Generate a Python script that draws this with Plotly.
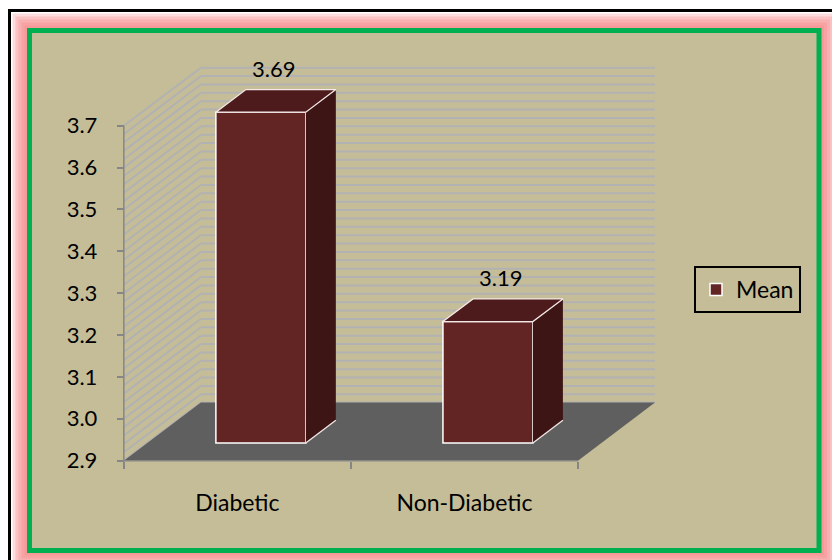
import numpy as np
import plotly.graph_objects as go

# ---- data -------------------------------------------------------------
categories = ["Diabetic", "Non-Diabetic"]
mean_values = [3.69, 3.19]
series_name = "Mean"
y_tick_values = [2.9, 3.0, 3.1, 3.2, 3.3, 3.4, 3.5, 3.6, 3.7]

# ---- 3-D look: oblique projection (depth 0 = front, depth 1 = back wall)
Y_MIN, Y_MAX = 2.9, 3.7
GRID_STEP = 0.02
DX = 77 / 227          # horizontal shift of the back wall, category units
DY = 58 / 418.6        # vertical shift of the back wall, value units
F0, F1 = 0.305, 0.695  # depth span of each bar
BAR_W = 0.396          # bar width, category units

X_RANGE = [-0.03, 2.357]
Y_RANGE = [2.88, 3.9]
FIG_W, FIG_H = 832, 560
M_L, M_R, M_T, M_B = 117, 173, 42, 91
PLOT_W = FIG_W - M_L - M_R
PLOT_H = FIG_H - M_T - M_B

FONT = "Lato"
BG = "#C4BD97"
FRONT, TOP, SIDE = "#632523", "#4D1B1B", "#3D1515"
GRID = "#B2B2B2"
AXIS = "#868686"


def proj(x, y, d):
    return x + DX * d, y + DY * d


def px_x(px):
    return (px - M_L) / PLOT_W


def px_y(py):
    return (FIG_H - M_B - py) / PLOT_H


centers = [i + 0.5 for i in range(len(categories))]

fig = go.Figure()

# front faces of the bars
bases = [Y_MIN + DY * F0 for _ in mean_values]
fig.add_trace(go.Bar(
    x=[c + DX * F0 for c in centers],
    y=[v + DY * F0 - b for v, b in zip(mean_values, bases)],
    base=bases,
    width=BAR_W,
    name=series_name,
    marker=dict(color=FRONT, line=dict(color="white", width=1.5)),
    hoverinfo="skip",
))

# side and top faces, plus the light edges
side_x, side_y, top_x, top_y, edge_x, edge_y = [], [], [], [], [], []
for c, v in zip(centers, mean_values):
    xl, xr = c - BAR_W / 2, c + BAR_W / 2
    pts = [proj(xr, Y_MIN, F0), proj(xr, v, F0), proj(xr, v, F1), proj(xr, Y_MIN, F1)]
    side_x += [p[0] for p in pts] + [None]
    side_y += [p[1] for p in pts] + [None]
    pts = [proj(xl, v, F0), proj(xr, v, F0), proj(xr, v, F1), proj(xl, v, F1), proj(xl, v, F0)]
    top_x += [p[0] for p in pts] + [None]
    top_y += [p[1] for p in pts] + [None]
    pts = [proj(xr, Y_MIN, F0), proj(xr, Y_MIN, F1)]
    edge_x += [p[0] for p in pts] + [None]
    edge_y += [p[1] for p in pts] + [None]

fig.add_trace(go.Scatter(x=side_x, y=side_y, mode="lines", fill="toself",
                         fillcolor=SIDE, line=dict(width=0), showlegend=False,
                         hoverinfo="skip"))
fig.add_trace(go.Scatter(x=top_x, y=top_y, mode="lines", fill="toself",
                         fillcolor=TOP, line=dict(color="#F4E8E8", width=1.3),
                         showlegend=False, hoverinfo="skip"))
fig.add_trace(go.Scatter(x=edge_x, y=edge_y, mode="lines",
                         line=dict(color="#F4E8E8", width=1.3),
                         showlegend=False, hoverinfo="skip"))

# value labels above each bar
annotations = []
for c, v in zip(centers, mean_values):
    ax, ay = proj(c, v, F1)
    annotations.append(dict(
        x=c + DX * 0.5, y=ay, xref="x", yref="y", text=f"{v:.2f}",
        showarrow=False, yshift=21, xshift=-2, yanchor="middle",
        font=dict(family=FONT, size=22, color="black")))

# ---- frame, walls, floor and grid ------------------------------------
shapes = []
# outer glow, filled chart area, green border, black edge
gx0, gy0, gx1, gy1 = px_x(29.5), px_y(30.5), px_x(819), px_y(550.5)
for w in (34, 28, 22, 16, 10):
    shapes.append(dict(type="rect", xref="paper", yref="paper", layer="below",
                       x0=gx0, y0=gy0, x1=gx1, y1=gy1,
                       line=dict(color="rgba(244,130,130,0.28)", width=w)))
shapes.append(dict(type="rect", xref="paper", yref="paper", layer="below",
                   x0=gx0, y0=gy0, x1=gx1, y1=gy1, fillcolor=BG, line=dict(width=0)))
shapes.append(dict(type="rect", xref="paper", yref="paper", layer="below",
                   x0=gx0, y0=gy0, x1=gx1, y1=gy1, line=dict(color="#00B050", width=5)))
shapes.append(dict(type="line", xref="paper", yref="paper", layer="below",
                   x0=px_x(8), y0=px_y(10.5), x1=px_x(832), y1=px_y(10.5),
                   line=dict(color="black", width=3)))
shapes.append(dict(type="line", xref="paper", yref="paper", layer="below",
                   x0=px_x(9.5), y0=px_y(9), x1=px_x(9.5), y1=px_y(560),
                   line=dict(color="black", width=3)))

n_cat = len(categories)
grid_vals = np.round(np.arange(Y_MIN, Y_MAX + GRID_STEP / 2, GRID_STEP), 4)
for gv in grid_vals:
    bx0, by0 = proj(0, gv, 1)
    bx1, by1 = proj(n_cat, gv, 1)
    shapes.append(dict(type="line", xref="x", yref="y", layer="below",
                       x0=bx0, y0=by0, x1=bx1, y1=by1, line=dict(color=GRID, width=2)))
    sx0, sy0 = proj(0, gv, 0)
    shapes.append(dict(type="line", xref="x", yref="y", layer="below",
                       x0=sx0, y0=sy0, x1=bx0, y1=by0, line=dict(color=GRID, width=2)))

floor = [proj(0, Y_MIN, 0), proj(n_cat, Y_MIN, 0), proj(n_cat, Y_MIN, 1), proj(0, Y_MIN, 1)]
path = "M " + " L ".join(f"{x},{y}" for x, y in floor) + " Z"
shapes.append(dict(type="path", xref="x", yref="y", layer="below", path=path,
                   fillcolor="#5F5F5F", line=dict(width=0)))
# axis lines
shapes.append(dict(type="line", xref="x", yref="y", layer="below",
                   x0=0, y0=Y_MIN, x1=n_cat, y1=Y_MIN, line=dict(color=AXIS, width=1.5)))
shapes.append(dict(type="line", xref="x", yref="y", layer="below",
                   x0=0, y0=Y_MIN, x1=0, y1=Y_MAX, line=dict(color=AXIS, width=1.5)))

fig.update_layout(
    width=FIG_W, height=FIG_H,
    margin=dict(l=M_L, r=M_R, t=M_T, b=M_B, pad=0),
    paper_bgcolor="white", plot_bgcolor="rgba(0,0,0,0)",
    font=dict(family=FONT, size=22, color="black"),
    shapes=shapes, annotations=annotations,
    showlegend=True,
    legend=dict(x=px_x(694), y=px_y(266), xanchor="left", yanchor="top",
                bgcolor="rgba(0,0,0,0)", bordercolor="black", borderwidth=2,
                font=dict(family=FONT, size=23, color="black")),
    xaxis=dict(range=X_RANGE, showgrid=False, zeroline=False, showline=False,
               anchor="free", position=px_y(460.6),
               tickmode="array", tickvals=centers, ticktext=categories,
               tickfont=dict(family=FONT, size=23, color="black"),
               ticks="", ticklabelstandoff=26,
               minor=dict(tickmode="array", tickvals=list(range(n_cat + 1)),
                          ticks="outside", ticklen=7, tickwidth=1.5, tickcolor=AXIS),
               fixedrange=True),
    yaxis=dict(range=Y_RANGE, showgrid=False, zeroline=False, showline=False,
               anchor="free", position=px_x(123.8),
               tickmode="array", tickvals=y_tick_values,
               ticktext=[f"{t:.1f}" for t in y_tick_values],
               ticks="outside", ticklen=7, tickwidth=1.5, tickcolor=AXIS,
               ticklabelstandoff=15, fixedrange=True),
)

fig.write_html("out.html")
